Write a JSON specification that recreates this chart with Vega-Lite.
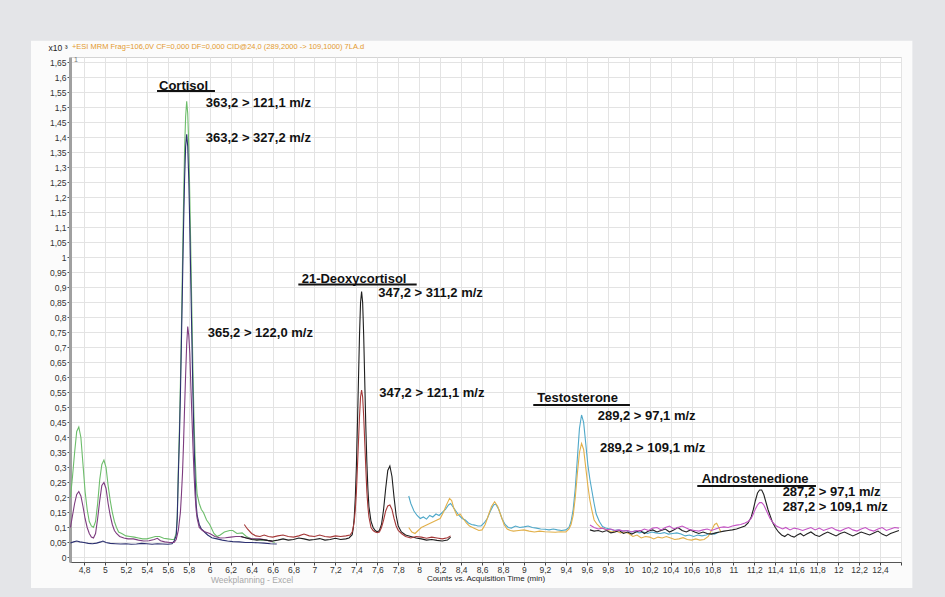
{
"$schema":"https://vega.github.io/schema/vega-lite/v6.json",
"width":831,"height":505,
"autosize":{"type":"none"},
"padding":{"left":70,"top":57,"right":44,"bottom":35},
"background":"#fbfbfb",
"config":{"view":{"fill":"#ffffff","stroke":"#d4d4d4"},"font":"Liberation Sans"},
"datasets":{
"tr":[
{"s":"g","t":4.67,"v":0.2},{"s":"g","t":4.69,"v":0.27},{"s":"g","t":4.71,"v":0.35},{"s":"g","t":4.73,"v":0.42},{"s":"g","t":4.75,"v":0.435},{"s":"g","t":4.77,"v":0.4},{"s":"g","t":4.79,"v":0.31},{"s":"g","t":4.81,"v":0.22},{"s":"g","t":4.83,"v":0.16},{"s":"g","t":4.85,"v":0.12},{"s":"g","t":4.87,"v":0.105},{"s":"g","t":4.89,"v":0.1},{"s":"g","t":4.91,"v":0.12},{"s":"g","t":4.93,"v":0.18},{"s":"g","t":4.95,"v":0.26},{"s":"g","t":4.97,"v":0.31},{"s":"g","t":4.99,"v":0.325},{"s":"g","t":5.01,"v":0.3},{"s":"g","t":5.03,"v":0.24},{"s":"g","t":5.05,"v":0.19},{"s":"g","t":5.07,"v":0.15},{"s":"g","t":5.09,"v":0.12},{"s":"g","t":5.11,"v":0.1},{"s":"g","t":5.13,"v":0.085},{"s":"g","t":5.16,"v":0.08},{"s":"g","t":5.2,"v":0.072},{"s":"g","t":5.24,"v":0.07},{"s":"g","t":5.28,"v":0.068},{"s":"g","t":5.32,"v":0.065},{"s":"g","t":5.36,"v":0.062},{"s":"g","t":5.4,"v":0.062},{"s":"g","t":5.44,"v":0.066},{"s":"g","t":5.48,"v":0.07},{"s":"g","t":5.52,"v":0.07},{"s":"g","t":5.56,"v":0.064},{"s":"g","t":5.6,"v":0.062},{"s":"g","t":5.64,"v":0.06},{"s":"g","t":5.66,"v":0.06},{"s":"g","t":5.68,"v":0.08},{"s":"g","t":5.69,"v":0.14},{"s":"g","t":5.7,"v":0.29},{"s":"g","t":5.71,"v":0.42},{"s":"g","t":5.72,"v":0.58},{"s":"g","t":5.73,"v":0.77},{"s":"g","t":5.74,"v":0.98},{"s":"g","t":5.75,"v":1.18},{"s":"g","t":5.76,"v":1.36},{"s":"g","t":5.77,"v":1.47},{"s":"g","t":5.78,"v":1.52},{"s":"g","t":5.79,"v":1.48},{"s":"g","t":5.8,"v":1.37},{"s":"g","t":5.81,"v":1.2},{"s":"g","t":5.82,"v":1.01},{"s":"g","t":5.83,"v":0.81},{"s":"g","t":5.84,"v":0.62},{"s":"g","t":5.85,"v":0.46},{"s":"g","t":5.86,"v":0.34},{"s":"g","t":5.87,"v":0.26},{"s":"g","t":5.88,"v":0.21},{"s":"g","t":5.9,"v":0.18},{"s":"g","t":5.92,"v":0.16},{"s":"g","t":5.94,"v":0.15},{"s":"g","t":5.97,"v":0.125},{"s":"g","t":6.0,"v":0.11},{"s":"g","t":6.04,"v":0.08},{"s":"g","t":6.07,"v":0.07},{"s":"g","t":6.1,"v":0.075},{"s":"g","t":6.14,"v":0.085},{"s":"g","t":6.19,"v":0.09},{"s":"g","t":6.22,"v":0.09},{"s":"g","t":6.26,"v":0.08},{"s":"g","t":6.31,"v":0.082},{"s":"g","t":6.35,"v":0.07},{"s":"g","t":6.4,"v":0.062},{"s":"g","t":6.45,"v":0.06},{"s":"g","t":6.5,"v":0.058},{"s":"g","t":6.54,"v":0.058},{"s":"g","t":6.58,"v":0.055},{"s":"g","t":6.62,"v":0.05},
{"s":"n","t":4.67,"v":0.048},{"s":"n","t":4.7,"v":0.052},{"s":"n","t":4.73,"v":0.055},{"s":"n","t":4.76,"v":0.052},{"s":"n","t":4.8,"v":0.05},{"s":"n","t":4.84,"v":0.047},{"s":"n","t":4.88,"v":0.046},{"s":"n","t":4.92,"v":0.048},{"s":"n","t":4.96,"v":0.052},{"s":"n","t":4.98,"v":0.055},{"s":"n","t":5.01,"v":0.05},{"s":"n","t":5.05,"v":0.047},{"s":"n","t":5.1,"v":0.046},{"s":"n","t":5.15,"v":0.045},{"s":"n","t":5.2,"v":0.046},{"s":"n","t":5.25,"v":0.044},{"s":"n","t":5.3,"v":0.045},{"s":"n","t":5.35,"v":0.047},{"s":"n","t":5.4,"v":0.046},{"s":"n","t":5.45,"v":0.044},{"s":"n","t":5.5,"v":0.046},{"s":"n","t":5.55,"v":0.045},{"s":"n","t":5.6,"v":0.044},{"s":"n","t":5.64,"v":0.046},{"s":"n","t":5.66,"v":0.055},{"s":"n","t":5.68,"v":0.073},{"s":"n","t":5.69,"v":0.13},{"s":"n","t":5.7,"v":0.27},{"s":"n","t":5.71,"v":0.39},{"s":"n","t":5.72,"v":0.54},{"s":"n","t":5.73,"v":0.72},{"s":"n","t":5.74,"v":0.91},{"s":"n","t":5.75,"v":1.1},{"s":"n","t":5.76,"v":1.26},{"s":"n","t":5.77,"v":1.37},{"s":"n","t":5.78,"v":1.41},{"s":"n","t":5.79,"v":1.37},{"s":"n","t":5.8,"v":1.26},{"s":"n","t":5.81,"v":1.1},{"s":"n","t":5.82,"v":0.91},{"s":"n","t":5.83,"v":0.72},{"s":"n","t":5.84,"v":0.54},{"s":"n","t":5.85,"v":0.39},{"s":"n","t":5.86,"v":0.27},{"s":"n","t":5.87,"v":0.18},{"s":"n","t":5.88,"v":0.14},{"s":"n","t":5.9,"v":0.11},{"s":"n","t":5.92,"v":0.095},{"s":"n","t":5.95,"v":0.085},{"s":"n","t":5.98,"v":0.075},{"s":"n","t":6.02,"v":0.066},{"s":"n","t":6.07,"v":0.062},{"s":"n","t":6.12,"v":0.058},{"s":"n","t":6.17,"v":0.055},{"s":"n","t":6.22,"v":0.053},{"s":"n","t":6.28,"v":0.052},{"s":"n","t":6.34,"v":0.05},{"s":"n","t":6.4,"v":0.05},{"s":"n","t":6.46,"v":0.049},{"s":"n","t":6.52,"v":0.048},{"s":"n","t":6.58,"v":0.046},{"s":"n","t":6.64,"v":0.045},
{"s":"p","t":4.67,"v":0.1},{"s":"p","t":4.69,"v":0.14},{"s":"p","t":4.71,"v":0.18},{"s":"p","t":4.73,"v":0.21},{"s":"p","t":4.75,"v":0.22},{"s":"p","t":4.77,"v":0.205},{"s":"p","t":4.79,"v":0.17},{"s":"p","t":4.81,"v":0.13},{"s":"p","t":4.83,"v":0.1},{"s":"p","t":4.85,"v":0.08},{"s":"p","t":4.87,"v":0.068},{"s":"p","t":4.89,"v":0.065},{"s":"p","t":4.91,"v":0.08},{"s":"p","t":4.93,"v":0.13},{"s":"p","t":4.95,"v":0.19},{"s":"p","t":4.97,"v":0.24},{"s":"p","t":4.99,"v":0.25},{"s":"p","t":5.01,"v":0.23},{"s":"p","t":5.03,"v":0.18},{"s":"p","t":5.05,"v":0.14},{"s":"p","t":5.07,"v":0.11},{"s":"p","t":5.09,"v":0.09},{"s":"p","t":5.11,"v":0.08},{"s":"p","t":5.14,"v":0.07},{"s":"p","t":5.18,"v":0.065},{"s":"p","t":5.22,"v":0.062},{"s":"p","t":5.27,"v":0.062},{"s":"p","t":5.32,"v":0.058},{"s":"p","t":5.37,"v":0.055},{"s":"p","t":5.42,"v":0.056},{"s":"p","t":5.47,"v":0.06},{"s":"p","t":5.5,"v":0.064},{"s":"p","t":5.53,"v":0.056},{"s":"p","t":5.57,"v":0.052},{"s":"p","t":5.62,"v":0.05},{"s":"p","t":5.66,"v":0.05},{"s":"p","t":5.68,"v":0.06},{"s":"p","t":5.7,"v":0.09},{"s":"p","t":5.72,"v":0.15},{"s":"p","t":5.73,"v":0.21},{"s":"p","t":5.74,"v":0.28},{"s":"p","t":5.75,"v":0.38},{"s":"p","t":5.76,"v":0.5},{"s":"p","t":5.77,"v":0.61},{"s":"p","t":5.78,"v":0.71},{"s":"p","t":5.79,"v":0.77},{"s":"p","t":5.8,"v":0.74},{"s":"p","t":5.81,"v":0.68},{"s":"p","t":5.82,"v":0.57},{"s":"p","t":5.83,"v":0.47},{"s":"p","t":5.84,"v":0.37},{"s":"p","t":5.85,"v":0.28},{"s":"p","t":5.86,"v":0.21},{"s":"p","t":5.87,"v":0.16},{"s":"p","t":5.88,"v":0.13},{"s":"p","t":5.9,"v":0.1},{"s":"p","t":5.93,"v":0.09},{"s":"p","t":5.96,"v":0.085},{"s":"p","t":6.0,"v":0.08},{"s":"p","t":6.05,"v":0.07},{"s":"p","t":6.1,"v":0.065},{"s":"p","t":6.15,"v":0.066},{"s":"p","t":6.2,"v":0.068},{"s":"p","t":6.25,"v":0.07},{"s":"p","t":6.29,"v":0.07},{"s":"p","t":6.34,"v":0.066},{"s":"p","t":6.4,"v":0.063},{"s":"p","t":6.48,"v":0.062},{"s":"p","t":6.54,"v":0.058},{"s":"p","t":6.6,"v":0.053},
{"s":"k","t":6.3,"v":0.07},{"s":"k","t":6.35,"v":0.065},{"s":"k","t":6.4,"v":0.06},{"s":"k","t":6.45,"v":0.058},{"s":"k","t":6.5,"v":0.06},{"s":"k","t":6.55,"v":0.057},{"s":"k","t":6.6,"v":0.055},{"s":"k","t":6.65,"v":0.058},{"s":"k","t":6.7,"v":0.062},{"s":"k","t":6.75,"v":0.058},{"s":"k","t":6.8,"v":0.06},{"s":"k","t":6.85,"v":0.065},{"s":"k","t":6.9,"v":0.062},{"s":"k","t":6.95,"v":0.058},{"s":"k","t":7.0,"v":0.06},{"s":"k","t":7.05,"v":0.063},{"s":"k","t":7.1,"v":0.058},{"s":"k","t":7.15,"v":0.06},{"s":"k","t":7.2,"v":0.064},{"s":"k","t":7.25,"v":0.06},{"s":"k","t":7.3,"v":0.062},{"s":"k","t":7.33,"v":0.065},{"s":"k","t":7.36,"v":0.076},{"s":"k","t":7.37,"v":0.096},{"s":"k","t":7.38,"v":0.135},{"s":"k","t":7.39,"v":0.2},{"s":"k","t":7.4,"v":0.3},{"s":"k","t":7.41,"v":0.44},{"s":"k","t":7.42,"v":0.59},{"s":"k","t":7.43,"v":0.74},{"s":"k","t":7.44,"v":0.85},{"s":"k","t":7.45,"v":0.886},{"s":"k","t":7.46,"v":0.85},{"s":"k","t":7.47,"v":0.74},{"s":"k","t":7.48,"v":0.59},{"s":"k","t":7.49,"v":0.44},{"s":"k","t":7.5,"v":0.32},{"s":"k","t":7.51,"v":0.23},{"s":"k","t":7.52,"v":0.17},{"s":"k","t":7.54,"v":0.12},{"s":"k","t":7.56,"v":0.1},{"s":"k","t":7.58,"v":0.09},{"s":"k","t":7.6,"v":0.085},{"s":"k","t":7.62,"v":0.09},{"s":"k","t":7.64,"v":0.11},{"s":"k","t":7.66,"v":0.16},{"s":"k","t":7.68,"v":0.23},{"s":"k","t":7.7,"v":0.29},{"s":"k","t":7.72,"v":0.305},{"s":"k","t":7.74,"v":0.27},{"s":"k","t":7.76,"v":0.2},{"s":"k","t":7.78,"v":0.14},{"s":"k","t":7.8,"v":0.105},{"s":"k","t":7.83,"v":0.085},{"s":"k","t":7.87,"v":0.075},{"s":"k","t":7.92,"v":0.07},{"s":"k","t":7.97,"v":0.065},{"s":"k","t":8.02,"v":0.062},{"s":"k","t":8.07,"v":0.058},{"s":"k","t":8.12,"v":0.06},{"s":"k","t":8.17,"v":0.057},{"s":"k","t":8.22,"v":0.055},{"s":"k","t":8.27,"v":0.058},{"s":"k","t":8.3,"v":0.068},
{"s":"r","t":6.33,"v":0.11},{"s":"r","t":6.36,"v":0.095},{"s":"r","t":6.4,"v":0.08},{"s":"r","t":6.44,"v":0.072},{"s":"r","t":6.48,"v":0.07},{"s":"r","t":6.52,"v":0.075},{"s":"r","t":6.56,"v":0.07},{"s":"r","t":6.6,"v":0.068},{"s":"r","t":6.65,"v":0.072},{"s":"r","t":6.7,"v":0.075},{"s":"r","t":6.75,"v":0.07},{"s":"r","t":6.8,"v":0.068},{"s":"r","t":6.85,"v":0.072},{"s":"r","t":6.9,"v":0.078},{"s":"r","t":6.95,"v":0.072},{"s":"r","t":7.0,"v":0.07},{"s":"r","t":7.05,"v":0.075},{"s":"r","t":7.1,"v":0.07},{"s":"r","t":7.15,"v":0.068},{"s":"r","t":7.2,"v":0.072},{"s":"r","t":7.25,"v":0.07},{"s":"r","t":7.3,"v":0.072},{"s":"r","t":7.34,"v":0.075},{"s":"r","t":7.36,"v":0.085},{"s":"r","t":7.37,"v":0.1},{"s":"r","t":7.38,"v":0.12},{"s":"r","t":7.39,"v":0.16},{"s":"r","t":7.4,"v":0.215},{"s":"r","t":7.41,"v":0.3},{"s":"r","t":7.42,"v":0.385},{"s":"r","t":7.43,"v":0.47},{"s":"r","t":7.44,"v":0.535},{"s":"r","t":7.45,"v":0.558},{"s":"r","t":7.46,"v":0.535},{"s":"r","t":7.47,"v":0.47},{"s":"r","t":7.48,"v":0.385},{"s":"r","t":7.49,"v":0.3},{"s":"r","t":7.5,"v":0.22},{"s":"r","t":7.51,"v":0.17},{"s":"r","t":7.52,"v":0.135},{"s":"r","t":7.54,"v":0.1},{"s":"r","t":7.56,"v":0.09},{"s":"r","t":7.58,"v":0.085},{"s":"r","t":7.6,"v":0.083},{"s":"r","t":7.62,"v":0.085},{"s":"r","t":7.64,"v":0.1},{"s":"r","t":7.66,"v":0.125},{"s":"r","t":7.68,"v":0.155},{"s":"r","t":7.7,"v":0.172},{"s":"r","t":7.72,"v":0.175},{"s":"r","t":7.74,"v":0.16},{"s":"r","t":7.76,"v":0.13},{"s":"r","t":7.78,"v":0.105},{"s":"r","t":7.8,"v":0.09},{"s":"r","t":7.83,"v":0.08},{"s":"r","t":7.87,"v":0.07},{"s":"r","t":7.92,"v":0.065},{"s":"r","t":7.97,"v":0.07},{"s":"r","t":8.02,"v":0.068},{"s":"r","t":8.07,"v":0.064},{"s":"r","t":8.12,"v":0.068},{"s":"r","t":8.17,"v":0.065},{"s":"r","t":8.22,"v":0.062},{"s":"r","t":8.27,"v":0.066},{"s":"r","t":8.3,"v":0.072},
{"s":"c","t":7.9,"v":0.205},{"s":"c","t":7.92,"v":0.18},{"s":"c","t":7.95,"v":0.155},{"s":"c","t":7.98,"v":0.14},{"s":"c","t":8.01,"v":0.13},{"s":"c","t":8.04,"v":0.135},{"s":"c","t":8.07,"v":0.128},{"s":"c","t":8.1,"v":0.14},{"s":"c","t":8.13,"v":0.135},{"s":"c","t":8.16,"v":0.145},{"s":"c","t":8.19,"v":0.14},{"s":"c","t":8.22,"v":0.15},{"s":"c","t":8.25,"v":0.16},{"s":"c","t":8.28,"v":0.175},{"s":"c","t":8.3,"v":0.18},{"s":"c","t":8.32,"v":0.17},{"s":"c","t":8.35,"v":0.155},{"s":"c","t":8.38,"v":0.14},{"s":"c","t":8.41,"v":0.13},{"s":"c","t":8.44,"v":0.125},{"s":"c","t":8.47,"v":0.115},{"s":"c","t":8.5,"v":0.11},{"s":"c","t":8.53,"v":0.108},{"s":"c","t":8.56,"v":0.105},{"s":"c","t":8.59,"v":0.105},{"s":"c","t":8.62,"v":0.115},{"s":"c","t":8.65,"v":0.13},{"s":"c","t":8.68,"v":0.155},{"s":"c","t":8.71,"v":0.175},{"s":"c","t":8.73,"v":0.178},{"s":"c","t":8.76,"v":0.16},{"s":"c","t":8.79,"v":0.13},{"s":"c","t":8.82,"v":0.11},{"s":"c","t":8.85,"v":0.1},{"s":"c","t":8.88,"v":0.098},{"s":"c","t":8.92,"v":0.105},{"s":"c","t":8.96,"v":0.1},{"s":"c","t":9.0,"v":0.102},{"s":"c","t":9.04,"v":0.105},{"s":"c","t":9.08,"v":0.1},{"s":"c","t":9.12,"v":0.098},{"s":"c","t":9.16,"v":0.095},{"s":"c","t":9.2,"v":0.094},{"s":"c","t":9.24,"v":0.092},{"s":"c","t":9.28,"v":0.095},{"s":"c","t":9.32,"v":0.092},{"s":"c","t":9.36,"v":0.09},{"s":"c","t":9.4,"v":0.092},{"s":"c","t":9.43,"v":0.1},{"s":"c","t":9.45,"v":0.12},{"s":"c","t":9.47,"v":0.16},{"s":"c","t":9.49,"v":0.23},{"s":"c","t":9.51,"v":0.33},{"s":"c","t":9.53,"v":0.43},{"s":"c","t":9.55,"v":0.475},{"s":"c","t":9.57,"v":0.45},{"s":"c","t":9.59,"v":0.38},{"s":"c","t":9.61,"v":0.31},{"s":"c","t":9.63,"v":0.26},{"s":"c","t":9.65,"v":0.22},{"s":"c","t":9.67,"v":0.18},{"s":"c","t":9.69,"v":0.145},{"s":"c","t":9.72,"v":0.12},{"s":"c","t":9.75,"v":0.103},{"s":"c","t":9.78,"v":0.098},{"s":"c","t":9.82,"v":0.095},{"s":"c","t":9.86,"v":0.09},{"s":"c","t":9.9,"v":0.092},{"s":"c","t":9.94,"v":0.088},{"s":"c","t":9.98,"v":0.09},{"s":"c","t":10.02,"v":0.085},{"s":"c","t":10.06,"v":0.088},{"s":"c","t":10.1,"v":0.082},{"s":"c","t":10.14,"v":0.085},{"s":"c","t":10.18,"v":0.08},{"s":"c","t":10.22,"v":0.085},{"s":"c","t":10.26,"v":0.082},{"s":"c","t":10.3,"v":0.08},{"s":"c","t":10.34,"v":0.083},{"s":"c","t":10.38,"v":0.078},{"s":"c","t":10.42,"v":0.08},{"s":"c","t":10.46,"v":0.082},{"s":"c","t":10.5,"v":0.078},{"s":"c","t":10.54,"v":0.072},{"s":"c","t":10.58,"v":0.075},{"s":"c","t":10.62,"v":0.07},{"s":"c","t":10.66,"v":0.075},{"s":"c","t":10.7,"v":0.072},{"s":"c","t":10.74,"v":0.075},{"s":"c","t":10.78,"v":0.08},{"s":"c","t":10.82,"v":0.078},{"s":"c","t":10.86,"v":0.085},
{"s":"o","t":7.9,"v":0.1},{"s":"o","t":7.93,"v":0.085},{"s":"o","t":7.96,"v":0.08},{"s":"o","t":7.99,"v":0.09},{"s":"o","t":8.02,"v":0.1},{"s":"o","t":8.05,"v":0.105},{"s":"o","t":8.08,"v":0.11},{"s":"o","t":8.11,"v":0.115},{"s":"o","t":8.14,"v":0.12},{"s":"o","t":8.17,"v":0.125},{"s":"o","t":8.2,"v":0.13},{"s":"o","t":8.23,"v":0.15},{"s":"o","t":8.26,"v":0.175},{"s":"o","t":8.29,"v":0.197},{"s":"o","t":8.31,"v":0.19},{"s":"o","t":8.33,"v":0.165},{"s":"o","t":8.36,"v":0.14},{"s":"o","t":8.39,"v":0.145},{"s":"o","t":8.42,"v":0.13},{"s":"o","t":8.45,"v":0.115},{"s":"o","t":8.48,"v":0.105},{"s":"o","t":8.51,"v":0.1},{"s":"o","t":8.54,"v":0.095},{"s":"o","t":8.57,"v":0.09},{"s":"o","t":8.6,"v":0.092},{"s":"o","t":8.63,"v":0.11},{"s":"o","t":8.66,"v":0.14},{"s":"o","t":8.69,"v":0.17},{"s":"o","t":8.72,"v":0.186},{"s":"o","t":8.75,"v":0.17},{"s":"o","t":8.78,"v":0.14},{"s":"o","t":8.81,"v":0.11},{"s":"o","t":8.84,"v":0.095},{"s":"o","t":8.87,"v":0.09},{"s":"o","t":8.9,"v":0.088},{"s":"o","t":8.95,"v":0.09},{"s":"o","t":9.0,"v":0.092},{"s":"o","t":9.05,"v":0.088},{"s":"o","t":9.1,"v":0.085},{"s":"o","t":9.15,"v":0.088},{"s":"o","t":9.2,"v":0.086},{"s":"o","t":9.25,"v":0.085},{"s":"o","t":9.3,"v":0.084},{"s":"o","t":9.35,"v":0.086},{"s":"o","t":9.4,"v":0.085},{"s":"o","t":9.43,"v":0.095},{"s":"o","t":9.45,"v":0.11},{"s":"o","t":9.47,"v":0.14},{"s":"o","t":9.49,"v":0.2},{"s":"o","t":9.51,"v":0.28},{"s":"o","t":9.53,"v":0.35},{"s":"o","t":9.55,"v":0.38},{"s":"o","t":9.57,"v":0.36},{"s":"o","t":9.59,"v":0.3},{"s":"o","t":9.61,"v":0.24},{"s":"o","t":9.63,"v":0.19},{"s":"o","t":9.65,"v":0.155},{"s":"o","t":9.67,"v":0.125},{"s":"o","t":9.7,"v":0.11},{"s":"o","t":9.73,"v":0.1},{"s":"o","t":9.77,"v":0.095},{"s":"o","t":9.8,"v":0.09},{"s":"o","t":9.84,"v":0.085},{"s":"o","t":9.88,"v":0.088},{"s":"o","t":9.92,"v":0.082},{"s":"o","t":9.96,"v":0.085},{"s":"o","t":10.0,"v":0.08},{"s":"o","t":10.04,"v":0.07},{"s":"o","t":10.08,"v":0.075},{"s":"o","t":10.12,"v":0.065},{"s":"o","t":10.16,"v":0.07},{"s":"o","t":10.2,"v":0.068},{"s":"o","t":10.24,"v":0.062},{"s":"o","t":10.28,"v":0.068},{"s":"o","t":10.32,"v":0.065},{"s":"o","t":10.36,"v":0.07},{"s":"o","t":10.4,"v":0.065},{"s":"o","t":10.44,"v":0.06},{"s":"o","t":10.48,"v":0.062},{"s":"o","t":10.52,"v":0.066},{"s":"o","t":10.56,"v":0.06},{"s":"o","t":10.6,"v":0.058},{"s":"o","t":10.64,"v":0.062},{"s":"o","t":10.68,"v":0.058},{"s":"o","t":10.72,"v":0.06},{"s":"o","t":10.76,"v":0.07},{"s":"o","t":10.79,"v":0.09},{"s":"o","t":10.82,"v":0.11},{"s":"o","t":10.84,"v":0.114},{"s":"o","t":10.86,"v":0.1},{"s":"o","t":10.88,"v":0.085},
{"s":"b","t":9.63,"v":0.092},{"s":"b","t":9.67,"v":0.088},{"s":"b","t":9.71,"v":0.09},{"s":"b","t":9.75,"v":0.085},{"s":"b","t":9.79,"v":0.09},{"s":"b","t":9.83,"v":0.082},{"s":"b","t":9.87,"v":0.085},{"s":"b","t":9.91,"v":0.09},{"s":"b","t":9.95,"v":0.08},{"s":"b","t":9.99,"v":0.085},{"s":"b","t":10.03,"v":0.078},{"s":"b","t":10.07,"v":0.085},{"s":"b","t":10.11,"v":0.09},{"s":"b","t":10.15,"v":0.08},{"s":"b","t":10.19,"v":0.088},{"s":"b","t":10.23,"v":0.092},{"s":"b","t":10.27,"v":0.085},{"s":"b","t":10.31,"v":0.09},{"s":"b","t":10.35,"v":0.095},{"s":"b","t":10.39,"v":0.085},{"s":"b","t":10.43,"v":0.092},{"s":"b","t":10.47,"v":0.1},{"s":"b","t":10.51,"v":0.09},{"s":"b","t":10.55,"v":0.085},{"s":"b","t":10.59,"v":0.092},{"s":"b","t":10.63,"v":0.085},{"s":"b","t":10.67,"v":0.08},{"s":"b","t":10.71,"v":0.085},{"s":"b","t":10.75,"v":0.08},{"s":"b","t":10.79,"v":0.078},{"s":"b","t":10.83,"v":0.082},{"s":"b","t":10.87,"v":0.085},{"s":"b","t":10.91,"v":0.088},{"s":"b","t":10.95,"v":0.09},{"s":"b","t":10.99,"v":0.092},{"s":"b","t":11.03,"v":0.095},{"s":"b","t":11.07,"v":0.1},{"s":"b","t":11.11,"v":0.105},{"s":"b","t":11.14,"v":0.115},{"s":"b","t":11.17,"v":0.135},{"s":"b","t":11.19,"v":0.16},{"s":"b","t":11.21,"v":0.19},{"s":"b","t":11.23,"v":0.215},{"s":"b","t":11.25,"v":0.225},{"s":"b","t":11.27,"v":0.225},{"s":"b","t":11.29,"v":0.21},{"s":"b","t":11.31,"v":0.185},{"s":"b","t":11.33,"v":0.16},{"s":"b","t":11.35,"v":0.14},{"s":"b","t":11.37,"v":0.12},{"s":"b","t":11.4,"v":0.1},{"s":"b","t":11.43,"v":0.085},{"s":"b","t":11.46,"v":0.075},{"s":"b","t":11.49,"v":0.07},{"s":"b","t":11.52,"v":0.078},{"s":"b","t":11.55,"v":0.072},{"s":"b","t":11.58,"v":0.068},{"s":"b","t":11.61,"v":0.075},{"s":"b","t":11.64,"v":0.08},{"s":"b","t":11.67,"v":0.072},{"s":"b","t":11.7,"v":0.078},{"s":"b","t":11.74,"v":0.085},{"s":"b","t":11.78,"v":0.075},{"s":"b","t":11.82,"v":0.07},{"s":"b","t":11.86,"v":0.078},{"s":"b","t":11.9,"v":0.085},{"s":"b","t":11.94,"v":0.078},{"s":"b","t":11.98,"v":0.072},{"s":"b","t":12.02,"v":0.08},{"s":"b","t":12.06,"v":0.085},{"s":"b","t":12.1,"v":0.078},{"s":"b","t":12.14,"v":0.072},{"s":"b","t":12.18,"v":0.078},{"s":"b","t":12.22,"v":0.085},{"s":"b","t":12.26,"v":0.08},{"s":"b","t":12.3,"v":0.075},{"s":"b","t":12.34,"v":0.082},{"s":"b","t":12.38,"v":0.088},{"s":"b","t":12.42,"v":0.078},{"s":"b","t":12.46,"v":0.072},{"s":"b","t":12.5,"v":0.08},{"s":"b","t":12.54,"v":0.085},{"s":"b","t":12.58,"v":0.09},
{"s":"m","t":9.63,"v":0.108},{"s":"m","t":9.67,"v":0.1},{"s":"m","t":9.71,"v":0.095},{"s":"m","t":9.75,"v":0.098},{"s":"m","t":9.79,"v":0.092},{"s":"m","t":9.83,"v":0.095},{"s":"m","t":9.87,"v":0.09},{"s":"m","t":9.91,"v":0.092},{"s":"m","t":9.95,"v":0.088},{"s":"m","t":9.99,"v":0.09},{"s":"m","t":10.03,"v":0.085},{"s":"m","t":10.07,"v":0.09},{"s":"m","t":10.11,"v":0.088},{"s":"m","t":10.15,"v":0.095},{"s":"m","t":10.19,"v":0.09},{"s":"m","t":10.23,"v":0.098},{"s":"m","t":10.27,"v":0.1},{"s":"m","t":10.31,"v":0.092},{"s":"m","t":10.35,"v":0.1},{"s":"m","t":10.39,"v":0.105},{"s":"m","t":10.43,"v":0.095},{"s":"m","t":10.47,"v":0.1},{"s":"m","t":10.51,"v":0.105},{"s":"m","t":10.55,"v":0.098},{"s":"m","t":10.59,"v":0.092},{"s":"m","t":10.63,"v":0.09},{"s":"m","t":10.67,"v":0.088},{"s":"m","t":10.71,"v":0.092},{"s":"m","t":10.75,"v":0.095},{"s":"m","t":10.79,"v":0.09},{"s":"m","t":10.83,"v":0.095},{"s":"m","t":10.87,"v":0.1},{"s":"m","t":10.91,"v":0.102},{"s":"m","t":10.95,"v":0.1},{"s":"m","t":10.99,"v":0.105},{"s":"m","t":11.03,"v":0.108},{"s":"m","t":11.07,"v":0.11},{"s":"m","t":11.11,"v":0.115},{"s":"m","t":11.14,"v":0.12},{"s":"m","t":11.17,"v":0.13},{"s":"m","t":11.19,"v":0.145},{"s":"m","t":11.21,"v":0.162},{"s":"m","t":11.23,"v":0.175},{"s":"m","t":11.25,"v":0.183},{"s":"m","t":11.27,"v":0.183},{"s":"m","t":11.29,"v":0.175},{"s":"m","t":11.31,"v":0.16},{"s":"m","t":11.33,"v":0.145},{"s":"m","t":11.35,"v":0.13},{"s":"m","t":11.38,"v":0.115},{"s":"m","t":11.41,"v":0.105},{"s":"m","t":11.44,"v":0.1},{"s":"m","t":11.47,"v":0.095},{"s":"m","t":11.5,"v":0.1},{"s":"m","t":11.54,"v":0.092},{"s":"m","t":11.58,"v":0.098},{"s":"m","t":11.62,"v":0.095},{"s":"m","t":11.66,"v":0.09},{"s":"m","t":11.7,"v":0.095},{"s":"m","t":11.74,"v":0.1},{"s":"m","t":11.78,"v":0.092},{"s":"m","t":11.82,"v":0.098},{"s":"m","t":11.86,"v":0.09},{"s":"m","t":11.9,"v":0.095},{"s":"m","t":11.94,"v":0.1},{"s":"m","t":11.98,"v":0.092},{"s":"m","t":12.02,"v":0.088},{"s":"m","t":12.06,"v":0.095},{"s":"m","t":12.1,"v":0.1},{"s":"m","t":12.14,"v":0.092},{"s":"m","t":12.18,"v":0.088},{"s":"m","t":12.22,"v":0.095},{"s":"m","t":12.26,"v":0.1},{"s":"m","t":12.3,"v":0.092},{"s":"m","t":12.34,"v":0.088},{"s":"m","t":12.38,"v":0.095},{"s":"m","t":12.42,"v":0.1},{"s":"m","t":12.46,"v":0.09},{"s":"m","t":12.5,"v":0.095},{"s":"m","t":12.54,"v":0.1},{"s":"m","t":12.58,"v":0.098}
],
"lab":[
{"txt":"Cortisol","t":5.516,"v":1.571},
{"txt":"363,2 > 121,1 m/z","t":5.962,"v":1.514},
{"txt":"363,2 > 327,2 m/z","t":5.962,"v":1.399},
{"txt":"365,2 > 122,0 m/z","t":5.981,"v":0.749},
{"txt":"21-Deoxycortisol","t":6.878,"v":0.927},
{"txt":"347,2 > 311,2 m/z","t":7.61,"v":0.88},
{"txt":"347,2 > 121,1 m/z","t":7.619,"v":0.547},
{"txt":"Testosterone","t":9.128,"v":0.531},
{"txt":"289,2 > 97,1 m/z","t":9.704,"v":0.472},
{"txt":"289,2 > 109,1 m/z","t":9.726,"v":0.364},
{"txt":"Androstenedione","t":10.697,"v":0.261},
{"txt":"287,2 > 97,1 m/z","t":11.47,"v":0.217},
{"txt":"287,2 > 109,1 m/z","t":11.47,"v":0.169}
],
"ul":[
{"t":5.497,"t2":6.05,"v":1.555},
{"t":6.846,"t2":7.976,"v":0.91},
{"t":9.089,"t2":10.012,"v":0.508},
{"t":10.655,"t2":11.788,"v":0.238}
],
"misc":[
{"txt":"1","t":4.704,"v":1.658,"k":"one"},
{"txt":"Weekplanning - Excel","t":6.404,"v":-0.074,"k":"wp"},
{"txt":"+ESI MRM Frag=106,0V CF=0,000 DF=0,000 CID@24,0 (289,2000 -> 109,1000) 7LA.d","t":4.685,"v":1.6997,"k":"hdr"}
],
"frame":[
{"t":3.864,"t2":13.138,"v":-0.2517,"v2":1.872}
]
},
"encoding":{
"x":{"field":"t","type":"quantitative","scale":{"domain":[4.666,12.6],"nice":false,"zero":false},
 "axis":{"values":[4.8,5,5.2,5.4,5.6,5.8,6,6.2,6.4,6.6,6.8,7,7.2,7.4,7.6,7.8,8,8.2,8.4,8.6,8.8,9,9.2,9.4,9.6,9.8,10,10.2,10.4,10.6,10.8,11,11.2,11.4,11.6,11.8,12,12.2,12.4,12.6],
 "labelExpr":"datum.value > 12.5 ? '' : replace(format(datum.value, '.1~f'), '.', ',')",
 "grid":true,"gridColor":"#e3e3e3","tickSize":3,"tickColor":"#444","domainColor":"#555","labelFontSize":8.5,"labelColor":"#333","labelPadding":0,"labelOverlap":false,"labelFlush":false,
 "title":"Counts vs. Acquisition Time (min)","titleFontSize":8,"titleFontWeight":"normal","titleColor":"#222","titlePadding":1}},
"y":{"field":"v","type":"quantitative","scale":{"domain":[-0.015,1.668],"nice":false,"zero":false},
 "axis":{"values":[0,0.05,0.1,0.15,0.2,0.25,0.3,0.35,0.4,0.45,0.5,0.55,0.6,0.65,0.7,0.75,0.8,0.85,0.9,0.95,1,1.05,1.1,1.15,1.2,1.25,1.3,1.35,1.4,1.45,1.5,1.55,1.6,1.65],
 "labelExpr":"replace(format(datum.value, '.2~f'), '.', ',')",
 "grid":true,"gridColor":"#e3e3e3","tickSize":3,"tickColor":"#555","domainColor":"#a0a0a0","domainWidth":3,"labelFontSize":8.5,"labelColor":"#333","labelPadding":1,"labelOverlap":false,"labelFlush":false,
 "title":"x10 ³","titleAngle":0,"titleAlign":"right","titleBaseline":"middle","titleX":-3,"titleY":-10,"titleFontSize":8.5,"titleFontWeight":"normal","titleColor":"#222"}}
},
"layer":[
{"data":{"name":"frame"},"mark":{"type":"rect","filled":false,"stroke":"#e4e5e8","strokeWidth":90,"strokeOpacity":1},
 "encoding":{"x2":{"field":"t2"},"y2":{"field":"v2"}}},
{"data":{"name":"tr"},"mark":{"type":"line","strokeWidth":1.1,"interpolate":"linear"},
 "encoding":{"color":{"field":"s","type":"nominal","legend":null,
  "scale":{"domain":["g","n","p","k","r","c","o","b","m"],"range":["#6dbd6b","#2c3070","#7d3c7f","#1e1e1e","#a53838","#4fa8c9","#e2b04a","#222222","#c452c4"]}}}},
{"data":{"name":"ul"},"mark":{"type":"rule","strokeWidth":2,"color":"#111"},
 "encoding":{"x2":{"field":"t2"}}},
{"data":{"name":"lab"},"mark":{"type":"text","align":"left","baseline":"middle","fontSize":13,"fontWeight":"bold","color":"#111","font":"Liberation Sans"},
 "encoding":{"text":{"field":"txt"}}},
{"data":{"name":"misc"},"transform":[{"filter":"datum.k == 'one'"}],"mark":{"type":"text","align":"left","baseline":"middle","fontSize":7,"color":"#777"},
 "encoding":{"text":{"field":"txt"}}},
{"data":{"name":"misc"},"transform":[{"filter":"datum.k == 'wp'"}],"mark":{"type":"text","align":"center","baseline":"middle","fontSize":8.5,"color":"#a8a8a8"},
 "encoding":{"text":{"field":"txt"}}},
{"data":{"name":"misc"},"transform":[{"filter":"datum.k == 'hdr'"}],"mark":{"type":"text","align":"left","baseline":"middle","fontSize":7.5,"color":"#e39a2d"},
 "encoding":{"text":{"field":"txt"}}}
]
}
